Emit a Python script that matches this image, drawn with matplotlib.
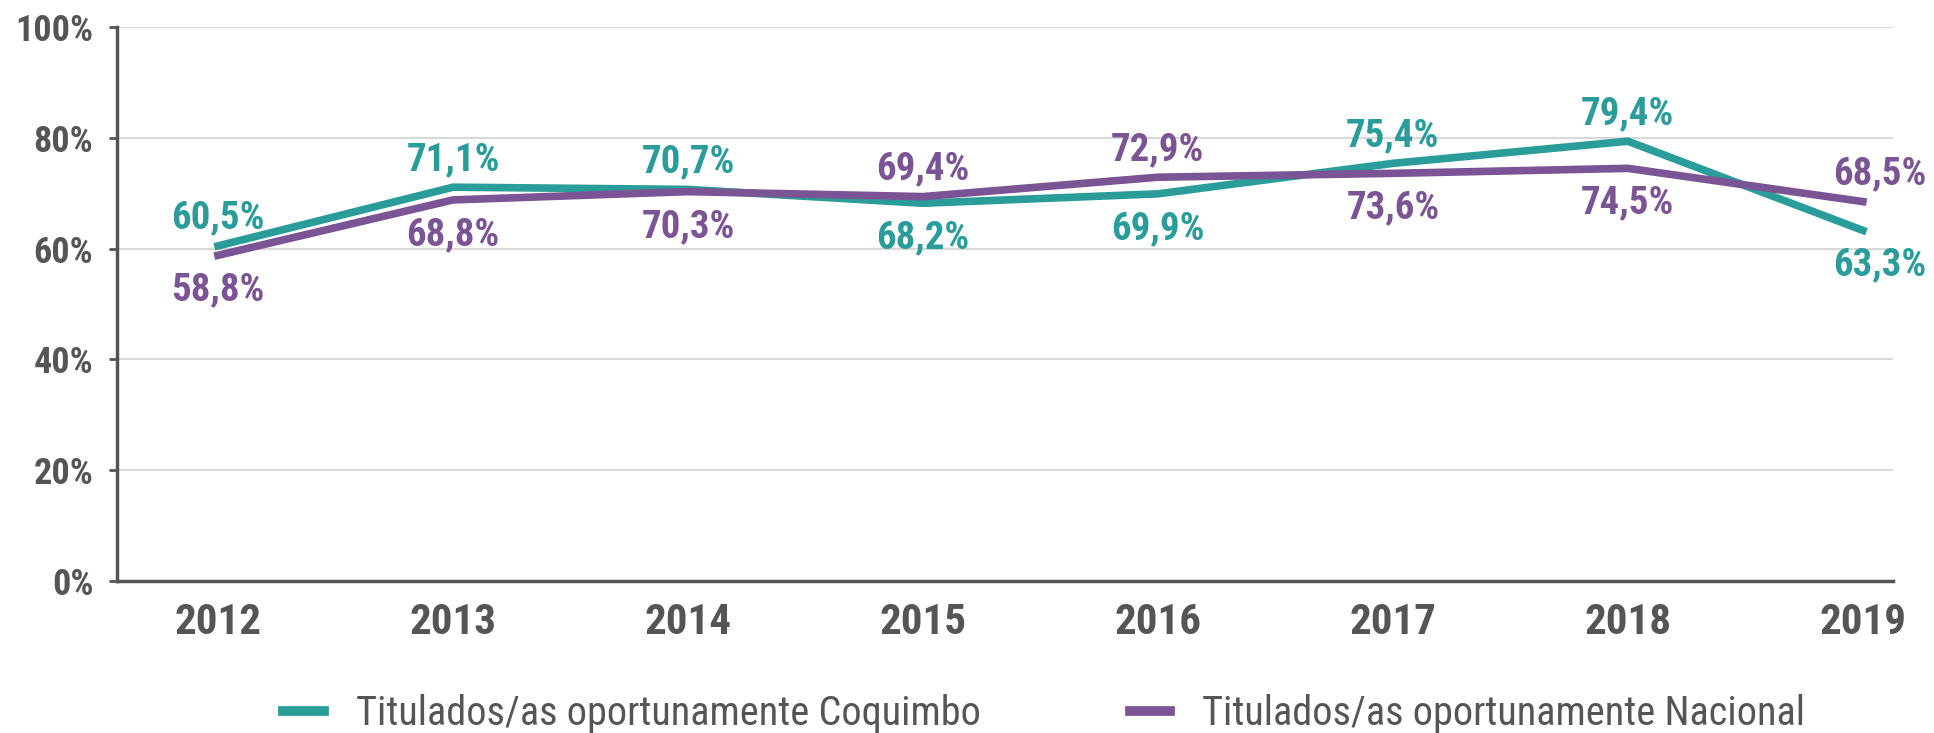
import matplotlib
matplotlib.use("Agg")
import matplotlib.pyplot as plt
from matplotlib.lines import Line2D

years = ["2012", "2013", "2014", "2015", "2016", "2017", "2018", "2019"]
coquimbo = [60.5, 71.1, 70.7, 68.2, 69.9, 75.4, 79.4, 63.3]
nacional = [58.8, 68.8, 70.3, 69.4, 72.9, 73.6, 74.5, 68.5]
coq_pos = ["above", "above", "above", "below", "below", "above", "above", "below"]
nac_pos = ["below", "below", "below", "above", "above", "below", "below", "above"]
yticks = [0, 20, 40, 60, 80, 100]
series_names = ["Titulados/as oportunamente Coquimbo", "Titulados/as oportunamente Nacional"]

TEAL = "#2a9c9a"
PURPLE = "#7a5494"
GRAY = "#555555"
FAM = ["Roboto Condensed", "DejaVu Sans"]

plt.rcParams["font.family"] = FAM

fig = plt.figure(figsize=(19.34, 7.33), dpi=100)
ax = fig.add_axes([0.0605, 0.2074, 0.9185, 0.7556])

x = list(range(len(years)))
ax.plot(x, coquimbo, color=TEAL, lw=5.5, solid_joinstyle="miter", zorder=3)
ax.plot(x, nacional, color=PURPLE, lw=5.5, solid_joinstyle="miter", zorder=3)

ax.set_xlim(-0.43, 7.13)
ax.set_ylim(0, 100)
ax.set_yticks(yticks)
ax.set_yticklabels([f"{v}%" for v in yticks], fontsize=26, fontweight="bold", color=GRAY)
ax.set_xticks(x)
ax.set_xticklabels(years, fontsize=31, fontweight="bold", color=GRAY)
ax.tick_params(axis="x", length=0, pad=15)
ax.tick_params(axis="y", length=6, width=2, color=GRAY, pad=11)
ax.grid(axis="y", color="#d9d9d9", lw=1.5, zorder=0)
for s in ["top", "right"]:
    ax.spines[s].set_visible(False)
for s in ["left", "bottom"]:
    ax.spines[s].set_color(GRAY)
    ax.spines[s].set_linewidth(2.5)

def label(vals, pos, color):
    for i, (v, p) in enumerate(zip(vals, pos)):
        dy = 20 if p == "above" else -25
        dx = 12 if i == len(vals) - 1 else 0
        ax.annotate(f"{v:.1f}%".replace(".", ","), (i, v), xytext=(dx, dy),
                    textcoords="offset points", ha="center", va="center",
                    fontsize=28, fontweight="bold", color=color, zorder=4,
                    annotation_clip=False)

label(coquimbo, coq_pos, TEAL)
label(nacional, nac_pos, PURPLE)

handles = [Line2D([0], [0], color=TEAL, lw=7), Line2D([0], [0], color=PURPLE, lw=7)]
fig.legend(handles, series_names, loc="center", bbox_to_anchor=(0.54, 0.027),
           ncol=2, frameon=False, fontsize=29, labelcolor=GRAY,
           handlelength=1.0, handletextpad=0.8, columnspacing=3.7)

fig.savefig("out.png", dpi=100)
